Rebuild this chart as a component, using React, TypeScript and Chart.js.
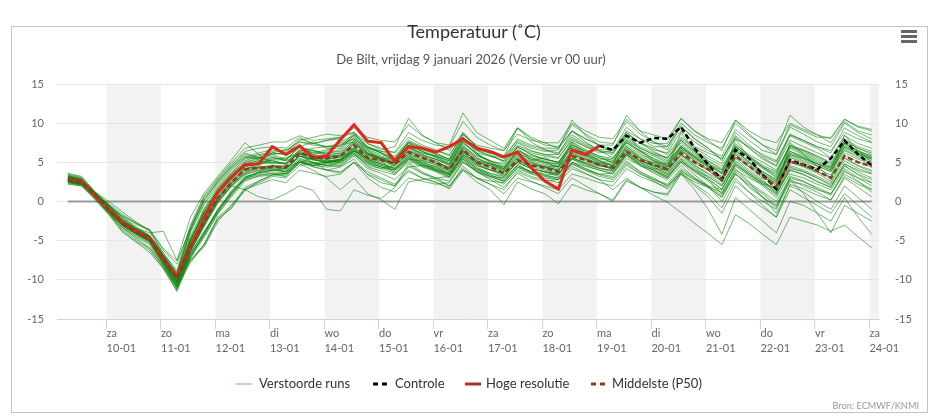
import React, { useEffect, useRef } from 'react';
import { Chart, registerables } from 'chart.js';

Chart.register(...registerables);

const FONT = "Lato, 'Open Sans', sans-serif";

// ---- categories / axis ----
const dayNames = ['za', 'zo', 'ma', 'di', 'wo', 'do', 'vr', 'za', 'zo', 'ma', 'di', 'wo', 'do', 'vr', 'za'];
const dayDates = ['10-01', '11-01', '12-01', '13-01', '14-01', '15-01', '16-01', '17-01', '18-01', '19-01', '20-01', '21-01', '22-01', '23-01', '24-01'];
const tickHours = [24, 48, 72, 96, 120, 144, 168, 192, 216, 240, 264, 288, 312, 336, 360];
const shadedDayStarts = [24, 72, 120, 168, 216, 264, 312, 360];
const yTicks = [-15, -10, -5, 0, 5, 10, 15];

// forecast steps: hours after 9 jan 00:00 (local), every 6 h
const firstHour = 7;
const stepHours = 6;
const stepCount = 60;
const hours = Array.from({ length: stepCount }, (_, i) => firstHour + stepHours * i);

// ---- series ----
const hogeResolutie = [2.8, 2.6, 0.7, -1.0, -2.7, -3.8, -4.7, -7.4, -9.6, -5.7, -2.1, 1.2, 3.1, 4.7, 4.8, 7.0, 6.0, 7.1, 5.6, 5.8, 7.9, 9.8, 7.7, 7.5, 5.1, 7.0, 6.8, 6.3, 7.0, 8.0, 6.8, 6.4, 5.7, 6.3, 4.3, 2.6, 1.6, 6.6, 6.0, 7.1];

const controleStart = 39;
const controle = [7.1, 6.6, 8.4, 7.5, 8.1, 8.0, 9.5, 6.8, 4.7, 2.8, 6.6, 5.5, 3.4, 1.6, 5.3, 4.7, 4.1, 5.5, 7.8, 6.0, 4.6];

const middelste = [2.8, 2.5, 0.8, -1.0, -2.8, -3.9, -4.8, -7.3, -9.8, -5.9, -2.6, 0.4, 2.4, 4.1, 4.3, 4.4, 4.4, 6.2, 5.6, 5.5, 5.8, 7.2, 5.6, 5.3, 4.8, 6.3, 5.6, 5.0, 4.1, 6.6, 5.0, 4.4, 3.6, 5.3, 4.6, 4.3, 3.8, 5.8, 5.3, 4.7, 4.3, 6.4, 5.3, 4.7, 4.1, 6.2, 5.0, 4.1, 2.8, 5.8, 4.5, 3.2, 1.9, 5.1, 4.7, 3.9, 3.0, 5.8, 5.0, 4.5];

const verstoordeRuns: number[][] = [
  [2.9,2.6,0.9,-0.9,-2.6,-3.7,-4.6,-7.1,-9.4, -5.0,-1.4,1.3,3.3,5.0,5.4,5.8, 5.2,7.2,6.0,6.4, 7.6,8.4,6.2,5.4, 5.0,7.6,6.9,6.0, 5.4,8.2,6.2,5.0, 4.2,6.9,5.2,5.6, 4.8,7.4,6.0,5.2, 5.0,7.5,6.5,5.8, 5.0,7.8,6.4,5.5, 4.5,7.2,6.0,5.0, 4.0,7.0,6.5,5.8, 5.0,7.6,6.8,6.2],
  [3.0,2.6,0.5,-1.4,-3.4,-4.7,-5.9,-8.2,-11.2, -7.0,-4.3,-1.3,0.9,3.0,3.4,3.6, 3.2,5.0,4.6,4.9, 5.4,6.2,4.4,3.9, 3.4,5.4,5.2,4.0, 3.6,5.6,4.2,3.4, 2.6,4.8,3.6,3.8, 3.2,5.0,4.5,4.0, 3.5,5.5,4.6,4.0, 3.2,5.0,4.0,3.2, 2.0,4.8,3.6,2.5, 1.2,4.2,3.8,3.0, 2.2,4.8,4.0,3.5],
  [2.5,2.2,1.0,-0.5,-1.8,-2.7,-3.6,-6.2,-8.0, -3.2,0.6,2.8,4.8,6.4,6.8,7.0, 6.8,8.2,7.4,7.8, 8.0,9.6,7.4,6.6, 7.0,10.6,8.5,7.5, 7.2,11.3,8.8,7.8, 6.8,9.4,8.0,7.2, 7.0,9.0,8.0,7.2, 6.5,8.5,7.5,6.8, 6.0,8.2,7.0,6.2, 5.5,8.0,7.0,6.0, 5.2,8.5,7.8,7.0, 6.5,8.8,8.0,7.5],
  [2.7,2.4,0.8,-0.8,-2.5,-3.6,-4.5,-7.0,-9.8, -7.5,-5.6,-2.3,-0.8,1.5,2.2,2.8, 2.4,4.0,3.6,3.2, 3.5,5.0,3.8,3.0, 2.2,4.0,3.0,2.4, 1.8,4.5,3.0,2.2, 1.5,3.8,3.0,2.6, 2.8,4.8,4.0,3.5, 3.6,6.0,5.0,4.2, 4.0,6.5,5.2,4.0, 2.5,5.5,4.0,2.8, 1.0,4.0,3.5,2.5, 1.8,4.5,3.5,2.8],
  [3.6,3.2,1.2,0.0,-1.3,-2.6,-3.8,-6.8,-9.0, -3.6,0.2,2.4,4.4,5.8,5.4,6.2, 6.6,7.0,7.6,6.8, 6.8,8.5,7.0,6.4, 5.8,7.8,7.0,6.5, 6.0,8.5,7.2,6.8, 6.5,8.6,7.8,7.5, 7.5,10.0,9.0,8.2, 8.0,10.5,9.0,8.5, 8.0,10.6,9.0,8.0, 7.5,10.4,9.0,8.0, 7.5,10.0,9.2,8.5, 8.0,10.5,9.5,9.0],
  [2.2,2.0,0.4,-1.5,-3.8,-5.2,-6.5,-8.5,-11.5, -7.2,-4.0,-1.0,1.2,3.0,3.8,4.0, 3.8,5.5,5.0,4.6, 4.5,5.8,4.2,3.6, 2.8,4.5,3.6,3.0, 2.0,4.2,3.0,2.2, 1.0,3.0,2.5,2.0, 1.5,3.5,3.0,2.4, 2.0,4.2,3.2,2.5, 1.8,4.0,2.8,1.8, 0.5,3.5,2.2,1.0, -0.5,2.8,2.0,1.2, 0.2,3.2,2.2,1.5],
  [3.2,2.8,1.0,-0.6,-2.0,-3.4,-4.0,-3.8,-7.5, -2.0,1.1,3.2,5.3,7.5,6.0,4.8, 3.5,4.8,4.0,3.0, 1.5,3.0,1.0,0.2, -1.0,2.5,2.8,3.0, 3.2,6.0,5.0,4.6, 4.0,6.5,5.8,5.4, 5.0,7.2,6.5,5.8, 5.5,8.0,6.8,6.0, 5.2,7.0,5.8,4.8, 3.6,6.5,5.0,3.8, 2.8,6.0,5.5,4.8, 4.0,6.8,6.0,5.5],
  [2.9,2.7,0.9,-1.2,-3.0,-4.0,-5.0,-7.8,-10.5, -6.0,-2.9,0.2,2.3,4.1,4.8,5.6, 5.2,6.0,6.6,5.8, 6.2,7.8,6.2,5.6, 5.2,6.8,6.0,5.4, 4.6,7.0,5.5,4.8, 4.0,6.0,5.2,4.8, 4.4,6.5,5.8,5.0, 4.6,7.0,5.6,4.8, 4.0,6.0,4.6,3.5, 2.2,5.0,3.6,2.2, 0.8,4.0,3.4,2.6, 1.8,4.8,3.8,3.0],
  [2.6,2.3,0.6,-1.1,-2.9,-4.0,-4.9,-7.6,-10.2, -6.2,-3.0,0.0,2.0,3.8,4.4,4.2, 4.0,5.8,5.0,4.0, 3.6,5.0,3.0,1.8, 1.2,3.0,2.6,2.2, 2.4,5.0,4.0,3.2, 2.5,4.2,3.5,3.0, 2.8,4.5,3.6,2.8, 1.5,3.0,1.8,0.8, -0.1,-1.4,-2.8,-4.1, -5.5,-1.7,-2.8,-4.2, -5.5,-2.0,-2.5,-3.0, -3.8,-3.0,-4.5,-5.9],
  [2.8,2.5,0.6,-1.2,-3.0,-4.1,-5.1,-7.9,-10.8, -6.8,-4.4,-1.5,0.8,2.8,3.6,4.0, 4.2,5.8,5.3,5.0, 5.2,6.6,5.3,4.8, 4.2,5.9,5.0,4.4, 3.5,5.8,4.4,3.6, 3.0,4.6,3.8,3.3, 3.0,5.0,4.2,3.5, 3.2,5.2,3.8,2.8, 2.0,3.5,1.5,-1.0, -4.2,0.5,-1.0,-2.5, -4.0,0.0,-0.5,-1.5, -2.5,0.5,-2.0,-4.2],
  [3.3,2.9,1.1,-0.7,-2.4,-3.5,-4.4,-6.8,-9.2, -3.8,-0.2,2.2,4.2,5.6,6.2,6.6, 6.4,7.8,8.2,8.6, 8.4,8.8,7.4,6.8, 6.2,8.2,7.2,6.6, 5.8,8.8,7.0,6.2, 5.5,7.5,6.5,6.0, 5.6,7.8,7.0,6.4, 6.0,8.8,7.5,6.6, 6.2,9.0,7.6,6.5, 5.8,9.2,7.8,6.5, 6.0,9.5,8.6,7.6, 7.0,10.0,8.8,8.0],
  [2.4,2.1,0.3,-1.6,-3.6,-4.9,-6.0,-8.3,-11.0, -7.0,-4.2,-1.0,1.0,3.0,3.8,4.6, 4.4,5.0,5.6,5.8, 5.8,6.4,6.0,5.4, 4.6,6.0,5.2,4.7, 4.2,6.8,5.4,4.8, 4.2,6.2,5.4,5.0, 4.8,7.0,6.0,5.2, 4.5,6.5,5.2,4.4, 3.5,5.5,4.2,3.0, 1.5,4.5,3.2,2.0, 0.5,3.5,3.0,2.2, 1.5,4.2,3.0,2.0],
  [2.6,2.3,0.9,-0.4,-2.0,-3.2,-4.4,-6.5,-9.2, -7.4,-5.5,-2.2,-0.9,1.6,2.4,3.2, 3.0,4.6,4.8,5.0, 5.2,6.5,5.5,5.2, 5.0,7.0,6.2,5.8, 5.2,8.0,6.5,5.8, 5.2,7.2,6.4,6.0, 6.0,8.2,7.2,6.5, 6.2,8.2,7.0,6.2, 5.6,7.5,6.2,5.2, 4.2,7.0,5.8,4.6, 3.8,7.2,6.6,5.8, 4.8,7.5,6.5,5.8],
  [3.1,2.7,0.7,-1.0,-2.8,-3.9,-4.8,-7.4,-9.9, -4.8,-1.6,1.0,3.0,4.6,5.0,5.2, 4.8,6.3,5.8,5.6, 5.9,7.5,6.0,5.4, 4.9,6.5,5.8,5.2, 4.2,6.6,5.0,4.3, 3.4,5.0,4.2,3.8, 3.5,5.5,5.0,4.5, 4.4,6.6,5.5,4.9, 4.4,6.6,5.4,4.4, 3.2,6.2,4.8,3.5, 2.2,5.6,5.0,4.2, 3.4,6.2,5.4,4.8],
  [2.7,2.4,0.7,-1.3,-3.1,-4.2,-5.2,-8.0,-10.9, -6.6,-3.9,-1.4,1.2,2.8,3.2,3.4, 3.6,5.0,4.4,4.0, 4.4,5.4,3.4,2.4, 2.0,4.8,3.6,2.8, 2.0,4.0,2.5,1.5, -0.4,2.5,1.6,1.0, -0.3,2.2,1.5,1.0, 0.2,2.8,1.8,1.2, 0.8,3.5,2.5,1.8, 1.2,4.0,3.0,2.2, 1.8,5.0,4.5,3.8, 3.0,5.5,4.5,3.8],
  [3.0,2.7,1.1,-0.6,-2.3,-3.5,-4.5,-7.0,-9.5, -5.2,-1.0,1.6,3.6,5.2,5.8,6.4, 6.6,7.6,7.2,7.0, 7.2,8.0,6.8,6.4, 6.3,8.8,7.8,7.2, 7.0,10.2,8.2,7.2, 6.5,9.4,8.2,7.5, 6.8,9.0,7.6,6.5, 5.6,7.5,6.2,5.2, 4.5,6.5,5.2,4.2, 3.0,6.0,4.6,3.4, 2.5,5.8,5.2,4.5, 3.8,6.5,5.6,5.0],
  [2.8,2.5,0.8,-1.0,-2.7,-3.8,-4.7,-7.2,-9.7, -5.8,-2.6,0.4,2.4,4.0,4.4,4.6, 4.2,5.8,5.4,5.0, 5.0,6.0,4.6,4.2, 4.6,6.2,5.4,4.9, 4.4,7.0,5.8,5.2, 4.8,7.0,6.2,5.8, 5.5,8.0,7.0,6.2, 6.5,9.5,8.0,7.0, 7.0,10.0,8.5,7.5, 6.8,10.0,8.4,7.2, 6.5,11.0,9.5,8.5, 7.5,10.2,9.0,8.5],
  [2.5,2.2,0.5,-1.3,-3.0,-4.1,-5.0,-7.7,-10.4, -6.3,-3.1,0.0,2.0,1.5,0.6,0.2, 1.0,2.0,1.4,-1.0, -1.2,1.5,0.8,0.4, 1.8,4.4,4.6,4.4, 3.8,6.2,4.8,4.0, 3.2,5.0,4.2,3.8, 3.6,5.6,4.8,4.2, 3.8,6.0,4.8,4.0, 3.2,5.2,3.8,2.6, 1.0,4.2,2.5,0.5, -1.5,2.0,1.2,0.0, -1.0,2.0,0.5,-1.0],
  [3.4,3.0,1.2,-0.4,-2.2,-3.4,-4.3,-6.9,-9.3, -3.4,0.4,2.6,4.6,6.2,5.6,6.0, 5.4,6.9,6.4,6.1, 6.6,8.6,6.9,6.2, 5.4,7.4,6.4,5.7, 4.8,7.8,6.0,5.0, 4.2,6.6,5.6,5.0, 4.4,7.6,6.2,5.2, 4.6,8.6,6.6,5.2, 4.2,8.8,6.4,4.6, 2.5,8.0,5.5,3.5, 1.5,7.5,6.0,4.5, 3.0,8.5,6.5,5.0],
  [2.3,2.0,0.2,-1.7,-3.9,-5.1,-6.2,-8.6,-11.3, -7.2,-4.6,-1.6,0.6,2.6,3.3,3.6, 3.4,5.0,4.6,4.4, 4.6,6.0,4.8,4.2, 3.6,5.2,4.4,3.8, 3.0,5.2,3.8,3.0, 2.2,4.0,3.2,2.8, 2.4,4.2,3.5,2.8, 2.5,4.6,3.5,2.8, 2.2,4.2,3.0,2.0, 0.8,3.8,2.4,1.2, 0.0,3.0,2.5,1.8, 1.0,3.5,2.5,1.6],
  [2.9,2.6,0.8,-1.1,-2.9,-3.9,-4.9,-7.5,-10.1, -6.0,-2.6,0.5,2.6,4.2,4.6,5.4, 5.6,6.1,5.6,5.4, 5.7,7.3,5.9,5.3, 4.8,6.4,5.7,5.1, 4.3,6.8,5.2,4.6, 3.8,5.6,4.8,4.4, 4.0,6.0,5.4,4.8, 4.2,6.2,5.0,4.2, 3.4,5.4,4.0,2.8, 1.0,3.5,2.0,0.6, -0.8,2.5,2.2,1.5, 1.0,3.8,3.0,2.4],
  [3.2,2.8,1.0,-0.8,-2.5,-3.6,-4.5,-7.0,-9.5, -4.6,-1.2,1.4,3.4,4.8,5.2,5.0, 4.9,6.6,6.0,5.7, 6.0,7.6,6.1,5.6, 5.0,6.6,5.9,5.4, 4.8,7.4,6.2,5.8, 5.6,8.0,7.2,6.8, 6.8,9.8,8.6,7.6, 7.4,10.2,8.6,7.6, 7.0,9.6,8.0,6.8, 5.4,8.4,6.8,5.4, 4.5,7.8,7.0,6.2, 5.5,8.0,7.0,6.4],
  [2.6,2.3,0.6,-1.2,-3.0,-4.1,-5.0,-7.8,-10.6, -6.4,-3.2,-0.2,2.0,3.5,4.0,4.1, 3.8,5.2,4.5,4.0, 3.8,5.0,3.5,2.8, 2.0,3.8,3.0,2.5, 1.6,4.0,3.0,2.6, 2.4,4.4,3.8,3.5, 3.4,5.4,4.8,4.2, 4.0,6.2,5.2,4.6, 4.4,6.8,5.6,4.6, 3.8,6.8,5.4,4.2, 3.2,6.4,5.8,5.0, 4.2,7.0,6.0,5.4],
  [3.5,3.1,1.2,-0.3,-1.6,-2.8,-3.7,-6.6,-8.8, -3.0,0.8,3.0,5.0,6.8,7.2,7.6, 7.6,8.4,7.8,8.0, 8.2,9.4,8.2,7.8, 7.6,9.8,8.4,7.5, 6.5,8.8,7.0,6.0, 5.0,7.0,6.0,5.4, 5.0,7.2,6.4,5.6, 5.0,7.2,6.0,5.2, 4.6,6.8,5.6,4.6, 3.5,6.4,5.0,3.8, 2.8,6.0,5.4,4.6, 3.8,6.6,5.8,5.2],
  [2.8,2.5,0.7,-1.0,-2.8,-3.9,-4.8,-7.3,-9.8, -6.0,-2.8,0.2,2.2,3.7,4.3,4.5, 4.4,6.0,5.4,5.0, 5.3,6.8,5.4,4.8, 4.3,5.8,4.8,4.0, 3.2,5.4,3.8,2.8, 1.8,3.6,2.6,1.8, 1.0,3.0,2.0,1.0, 0.0,2.6,1.8,1.2, 1.0,3.8,2.8,2.0, 1.5,4.6,3.4,2.4, 1.6,5.0,4.4,3.6, 2.6,5.6,4.6,4.0],
  [3.1,2.8,1.0,-0.7,-2.4,-3.6,-4.6,-7.1,-9.6, -5.0,-1.6,1.1,3.1,4.6,4.9,4.9, 4.8,6.4,5.9,5.6, 5.8,7.4,6.0,5.5, 5.0,6.8,6.2,5.8, 5.2,7.8,6.6,6.2, 5.8,7.8,7.0,6.6, 6.2,8.5,7.4,6.6, 6.6,9.0,8.0,7.4, 7.4,10.6,9.0,7.8, 6.5,10.4,8.6,7.2, 6.0,9.8,9.0,8.2, 8.2,10.5,9.6,9.2],
  [2.7,2.4,0.6,-1.2,-3.0,-4.0,-5.0,-7.6,-10.3, -5.9,-2.7,0.4,2.3,3.6,4.2,4.4, 4.2,5.8,5.3,5.1, 5.4,6.9,5.5,5.0, 4.5,6.1,5.3,4.7, 3.9,6.3,4.8,4.1, 3.4,5.2,4.4,4.0, 3.6,5.6,4.9,4.3, 3.9,6.0,4.8,4.0, 3.0,5.0,3.4,2.0, 0.0,3.0,1.2,-0.5, -2.0,1.5,0.5,-0.5, -1.5,1.0,-0.5,-2.0],
  [3.0,2.6,0.8,-0.9,-2.6,-3.7,-4.6,-7.2,-9.7, -4.9,-1.5,1.2,3.2,4.8,5.2,5.6, 5.4,6.4,6.8,7.0, 7.4,8.0,6.6,6.0, 5.6,7.4,6.6,6.0, 5.4,8.2,6.6,5.8, 5.2,7.6,6.8,6.4, 6.6,10.4,8.4,7.2, 6.2,8.8,7.4,6.4, 5.4,7.8,6.4,5.2, 4.0,7.4,5.8,4.4, 3.4,7.0,6.2,5.4, 4.4,7.4,6.4,5.6],
  [2.5,2.2,0.4,-1.5,-3.3,-4.4,-5.3,-8.1,-10.8, -6.8,-4.0,-1.1,1.1,3.1,3.7,4.0, 3.9,5.4,4.9,4.6, 4.8,6.2,4.9,4.4, 3.8,5.4,4.5,3.9, 3.2,5.4,4.0,3.2, 2.6,4.4,3.6,3.2, 2.8,4.8,4.0,3.2, 2.8,4.8,3.6,2.6, 1.6,3.6,2.0,0.6, -1.5,2.0,0.4,-0.8, -2.0,2.2,1.6,0.8, 0.2,3.0,1.8,0.6],
  [2.8,2.5,0.8,-1.0,-2.8,-3.8,-4.8,-7.3,-9.6, -5.8,-2.5,0.6,2.6,4.2,4.4,4.5, 4.6,6.2,5.7,5.4, 5.6,7.0,5.7,5.2, 4.7,6.4,5.6,4.9, 4.2,6.5,5.1,4.5, 3.7,5.4,4.6,4.2, 3.9,5.9,5.2,4.6, 4.2,6.3,5.2,4.6, 4.0,6.1,4.9,4.0, 2.7,5.7,4.4,3.3, 2.0,5.2,4.6,3.8, 3.1,5.9,5.1,4.4],
  [3.3,2.9,1.1,-0.5,-2.3,-3.5,-4.4,-7.0,-9.4, -3.9,-0.4,1.9,4.0,5.6,5.5,6.0, 6.2,8.0,7.4,7.0, 7.0,8.8,6.6,5.2, 3.5,5.0,3.8,3.0, 2.6,5.0,3.8,3.2, 3.0,5.2,4.6,4.4, 4.5,7.0,6.2,5.6, 5.0,7.6,6.4,5.5, 4.8,7.2,6.0,5.0, 3.6,7.0,5.6,4.4, 3.6,7.2,6.4,5.6, 4.6,7.4,6.4,5.8],
  [3.0,2.7,1.0,-0.8,-2.5,-3.6,-4.5,-7.0,-9.4, -5.4,-1.9,0.9,2.9,4.4,5.0,5.3, 5.3,7.0,6.5,6.2, 6.4,8.2,6.8,6.2, 5.6,7.6,6.8,6.2, 5.4,8.6,7.0,6.2, 5.8,9.4,7.6,6.6, 6.0,9.0,8.0,7.2, 7.2,11.0,9.0,7.6, 6.6,9.6,8.0,6.8, 5.2,8.8,7.2,5.8, 5.0,8.6,7.8,7.0, 6.2,9.4,8.4,7.6],
  [2.4,2.1,0.9,-0.6,-1.9,-2.9,-3.6,-6.0,-7.6, -3.5,0.1,2.6,4.4,6.0,5.6,5.2, 4.8,6.2,5.6,5.2, 5.2,6.6,5.2,4.6, 4.2,5.8,5.0,4.5, 4.0,6.4,5.2,4.8, 4.4,6.2,5.4,5.0, 4.4,6.4,5.6,4.8, 4.0,6.0,4.6,3.6, 2.8,4.6,3.0,1.8, 0.6,3.6,1.8,0.5, -0.5,2.8,1.0,-1.5, -4.0,-0.5,-1.5,-2.5],
  [2.6,2.3,0.5,-1.4,-3.3,-4.5,-5.5,-8.4,-11.0, -7.8,-5.4,-2.0,-0.6,1.8,2.6,3.4, 3.2,5.0,4.8,4.6, 5.0,6.4,5.0,4.4, 4.0,5.6,4.8,4.2, 3.6,6.0,4.6,4.0, 3.8,5.8,5.0,4.6, 4.2,6.2,5.4,4.8, 4.8,7.0,5.8,5.0, 4.8,7.0,5.8,4.8, 4.0,7.0,5.6,4.4, 3.0,6.2,5.6,4.8, 4.4,7.2,6.2,5.6],
  [3.0,2.6,0.9,-0.9,-2.7,-3.8,-4.8,-7.5,-10.0, -5.0,-1.3,1.5,3.5,5.0,5.6,6.2, 6.0,7.0,6.2,6.6, 7.2,7.6,6.2,5.6, 5.4,7.6,6.4,5.6, 4.8,7.2,5.6,4.8, 4.0,6.0,5.0,4.4, 4.0,6.2,5.4,4.6, 4.4,6.8,5.6,4.6, 3.8,6.0,4.6,3.6, 2.6,6.0,4.4,3.0, 2.4,6.4,5.6,4.8, 4.0,7.0,6.2,5.4],
  [2.7,2.4,0.7,-1.1,-2.9,-4.0,-4.9,-7.6,-10.1, -6.6,-3.8,-1.2,1.4,3.2,3.6,3.8, 3.6,5.2,4.6,4.8, 5.0,6.4,5.0,4.4, 4.0,5.6,4.6,4.0, 3.4,5.8,4.2,3.4, 2.8,4.6,3.8,3.4, 3.0,5.0,4.2,3.4, 3.0,5.0,3.8,3.0, 2.0,3.8,2.2,1.0, -0.8,2.6,1.2,0.0, -1.0,3.2,2.6,1.6, 0.8,4.0,2.6,1.2],
  [2.9,2.6,1.0,-0.8,-2.6,-3.7,-4.6,-7.1,-9.5, -4.4,-0.9,1.7,3.7,5.4,6.0,6.2, 6.0,7.6,7.4,7.8, 8.2,8.8,7.0,6.2, 5.2,7.0,6.0,5.4, 4.6,7.6,6.0,5.2, 4.6,7.0,6.0,5.4, 5.0,7.6,6.6,5.8, 5.2,7.8,6.4,5.4, 4.6,7.0,5.6,4.4, 3.0,6.6,5.0,3.6, 2.6,6.8,6.0,5.2, 4.2,7.8,6.8,6.0],
  [2.6,2.3,0.6,-1.3,-3.1,-4.2,-5.1,-7.9,-10.7, -6.4,-3.0,-0.1,1.9,3.4,4.0,4.3, 4.2,5.8,5.4,5.2, 5.4,6.8,5.4,4.8, 4.2,5.6,4.8,4.2, 3.6,6.0,4.6,4.0, 3.6,5.6,4.8,4.5, 4.0,6.4,5.8,5.0, 4.6,6.8,5.4,4.4, 3.6,5.8,4.4,3.2, 2.0,5.2,3.8,2.6, 1.4,4.6,4.0,3.2, 2.4,5.2,4.2,3.6],
  [3.2,2.8,0.8,-1.0,-2.8,-3.9,-4.9,-7.6,-10.2, -5.6,-2.0,0.8,2.8,4.4,4.8,5.0, 4.8,6.6,6.2,6.0, 6.2,7.8,6.4,5.8, 5.4,7.2,6.4,5.8, 5.0,7.6,6.0,5.2, 4.4,6.4,5.6,5.2, 4.6,6.8,6.0,5.4, 5.4,7.8,6.8,6.0, 5.6,8.0,6.8,5.8, 4.8,8.2,6.8,5.6, 4.6,8.4,7.6,6.8, 5.6,8.4,7.4,6.8],
  [2.8,2.5,0.7,-1.1,-2.9,-4.0,-5.0,-7.7,-10.4, -7.6,-5.8,-2.6,-0.4,1.4,2.6,3.4, 3.6,5.2,5.0,5.0, 5.2,6.6,5.2,4.6, 4.0,5.4,4.6,4.0, 3.4,5.6,4.2,3.6, 3.2,5.0,4.2,3.8, 3.4,5.4,4.6,4.0, 3.6,5.8,4.6,3.8, 3.0,5.2,3.8,2.8, 1.6,4.8,3.4,2.2, 1.0,4.4,3.8,3.0, 2.0,4.6,3.4,2.4],
];

// ---- styling ----
const runColor = 'rgba(0,128,0,0.55)';
const controlColor = '#000000';
const hresColor = '#dc2a1c';
const p50Color = '#8e3a28';
const zeroColor = '#9a9a9a';
const bandColor = '#f2f2f2';

const toPoints = (values: number[], start = 0) => values.map((v, i) => ({ x: hours[start + i], y: v }));

const bandPlugin = {
  id: 'dayBands',
  beforeDraw(chart: any) {
    const { ctx, chartArea, scales } = chart;
    if (!chartArea) return;
    const x = scales.x;
    ctx.save();
    ctx.fillStyle = bandColor;
    for (const s of shadedDayStarts) {
      const x0 = Math.max(chartArea.left, x.getPixelForValue(s));
      const x1 = Math.min(chartArea.right, x.getPixelForValue(s + 24));
      if (x1 > x0) ctx.fillRect(x0, chartArea.top, x1 - x0, chartArea.bottom - chartArea.top);
    }
    ctx.restore();
  },
};

function buildConfig(): any {
  const datasets: any[] = [];
  datasets.push({
    label: 'Middelste (P50)', data: toPoints(middelste), borderColor: p50Color, borderWidth: 2.5,
    borderDash: [5, 3], order: 1,
  });
  datasets.push({
    label: 'Hoge resolutie', data: toPoints(hogeResolutie), borderColor: hresColor, borderWidth: 3, order: 2,
  });
  datasets.push({
    label: 'Controle', data: toPoints(controle, controleStart), borderColor: controlColor, borderWidth: 2.5,
    borderDash: [5, 3], order: 3,
  });
  verstoordeRuns.forEach((run) => {
    datasets.push({ label: 'Verstoorde runs', data: toPoints(run), borderColor: runColor, borderWidth: 1, order: 10 });
  });
  datasets.push({
    label: 'nul', data: [{ x: hours[0], y: 0 }, { x: hours[hours.length - 1], y: 0 }],
    borderColor: zeroColor, borderWidth: 2, order: 100,
  });

  const tickFont = { family: FONT, size: 11 };
  return {
    type: 'line',
    data: { datasets },
    plugins: [bandPlugin],
    options: {
      responsive: false,
      animation: false,
      events: [],
      layout: { padding: { top: 84, left: 0, right: 0, bottom: 0 } },
      elements: { point: { radius: 0, hoverRadius: 0 }, line: { tension: 0, fill: false } },
      plugins: { legend: { display: false }, tooltip: { enabled: false }, title: { display: false } },
      scales: {
        x: {
          type: 'linear', min: 2.2, max: 364.2,
          afterFit: (s: any) => { s.height = 100; },
          afterBuildTicks: (s: any) => { s.ticks = tickHours.map((v) => ({ value: v })); },
          grid: { drawOnChartArea: false, drawTicks: true, tickLength: 10, color: '#ccd6eb', lineWidth: 1 },
          border: { display: true, color: '#ccd6eb', width: 1 },
          ticks: {
            autoSkip: false, maxRotation: 0, minRotation: 0, align: 'start', padding: -3.5,
            color: '#666666', font: { family: FONT, size: 11, lineHeight: '15px' },
            callback: (_v: any, i: number) => [dayNames[i], dayDates[i]],
          },
        },
        y: {
          position: 'left', min: -15, max: 15,
          afterFit: (s: any) => { s.width = 57; },
          afterBuildTicks: (s: any) => { s.ticks = yTicks.map((v) => ({ value: v })); },
          grid: { color: '#e6e6e6', lineWidth: 1, drawTicks: false },
          border: { display: false },
          ticks: { padding: 13, color: '#666666', font: tickFont },
        },
        y2: {
          position: 'right', min: -15, max: 15,
          afterFit: (s: any) => { s.width = 56; },
          afterBuildTicks: (s: any) => { s.ticks = yTicks.map((v) => ({ value: v })); },
          grid: { display: false, drawTicks: false },
          border: { display: false },
          ticks: { padding: 16, color: '#666666', font: tickFont },
        },
      },
    },
  };
}

const legendItems = [
  { label: 'Verstoorde runs', color: 'rgba(0,128,0,0.28)', dash: '', width: 2, symX: 236, textX: 259 },
  { label: 'Controle', color: controlColor, dash: '5 4', width: 3, symX: 373, textX: 395 },
  { label: 'Hoge resolutie', color: '#b52a2a', dash: '', width: 3, symX: 465, textX: 486 },
  { label: 'Middelste (P50)', color: p50Color, dash: '5 4', width: 3, symX: 591, textX: 612 },
];

export default function App() {
  const canvasRef = useRef<HTMLCanvasElement>(null);

  useEffect(() => {
    document.body.style.margin = '0';
    let chart: Chart | null = null;
    let cancelled = false;
    const build = () => {
      if (cancelled || !canvasRef.current) return;
      chart = new Chart(canvasRef.current, buildConfig());
    };
    const fonts: any = (document as any).fonts;
    if (fonts && fonts.load) {
      Promise.all([fonts.load(`11px ${FONT}`), fonts.load(`13px ${FONT}`)]).then(build, build);
    } else {
      build();
    }
    return () => {
      cancelled = true;
      if (chart) chart.destroy();
    };
  }, []);

  return (
    <div style={{ position: 'relative', width: 935, height: 419, overflow: 'hidden', background: '#ffffff', fontFamily: FONT }}>
      <canvas ref={canvasRef} width={935} height={419} style={{ position: 'absolute', left: 0, top: 0, width: 935, height: 419 }} />
      <div style={{ position: 'absolute', left: 11, top: 26, width: 917, height: 387, border: '1px solid #b3c9d7', boxSizing: 'border-box', pointerEvents: 'none' }} />
      <div style={{ position: 'absolute', left: 274, top: 21, width: 400, textAlign: 'center', fontSize: 18, lineHeight: 1.2, color: '#333333', whiteSpace: 'nowrap' }}>
        Temperatuur (˚C)
      </div>
      <div style={{ position: 'absolute', left: 221, top: 52, width: 500, textAlign: 'center', fontSize: 13, lineHeight: 1.2, color: '#555555', whiteSpace: 'nowrap' }}>
        De Bilt, vrijdag 9 januari 2026 (Versie vr 00 uur)
      </div>
      {[30, 35, 40].map((t) => (
        <div key={t} style={{ position: 'absolute', left: 901, top: t, width: 16, height: 3, background: '#666666' }} />
      ))}
      {legendItems.map((it) => (
        <React.Fragment key={it.label}>
          <svg style={{ position: 'absolute', left: it.symX, top: 380 }} width={16} height={8}>
            <line x1={0} y1={4} x2={16} y2={4} stroke={it.color} strokeWidth={it.width} strokeDasharray={it.dash || undefined} />
          </svg>
          <div style={{ position: 'absolute', left: it.textX, top: 375.5, fontSize: 13, lineHeight: 1.2, color: '#333333', whiteSpace: 'nowrap' }}>
            {it.label}
          </div>
        </React.Fragment>
      ))}
      <div style={{ position: 'absolute', right: 16, top: 400, fontSize: 9.2, lineHeight: 1.2, color: '#999999', whiteSpace: 'nowrap' }}>
        Bron: ECMWF/KNMI
      </div>
    </div>
  );
}
